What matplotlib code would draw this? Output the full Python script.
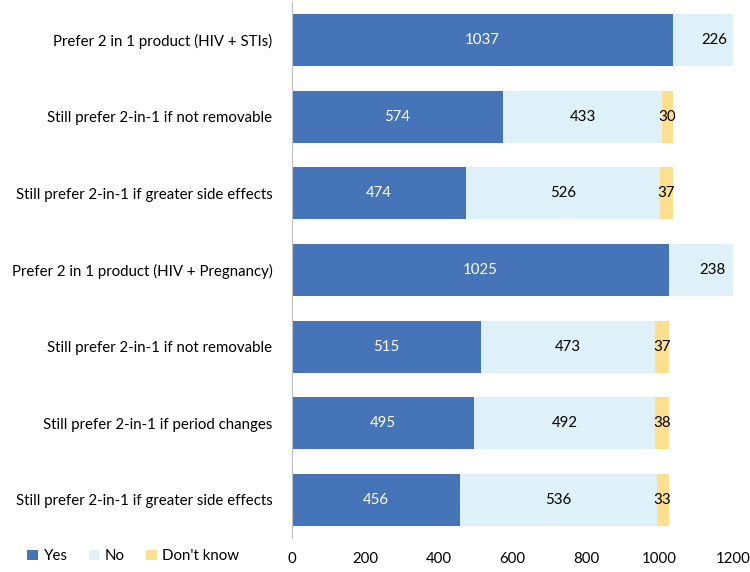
import matplotlib.pyplot as plt
import numpy as np

# categories top to bottom
labels = [
    "Prefer 2 in 1 product (HIV + STIs)",
    "Still prefer 2-in-1 if not removable",
    "Still prefer 2-in-1 if greater side effects",
    "Prefer 2 in 1 product (HIV + Pregnancy)",
    "Still prefer 2-in-1 if not removable",
    "Still prefer 2-in-1 if period changes",
    "Still prefer 2-in-1 if greater side effects",
]
yes = [1037, 574, 474, 1025, 515, 495, 456]
no = [226, 433, 526, 238, 473, 492, 536]
dont_know = [0, 30, 37, 0, 37, 38, 33]

series_names = ["Yes", "No", "Don't know"]
colors = ["#4674B8", "#DEF0F8", "#FEDF8E"]
text_colors = ["white", "black", "black"]

plt.rcParams['font.family'] = ['Lato', 'DejaVu Sans']
fs = 10.8

fig = plt.figure(figsize=(7.5, 5.72), dpi=100)
ax = fig.add_axes([292 / 750, 1 - 538 / 572, 441 / 750, 536 / 572])

y = np.arange(len(labels))
left = np.zeros(len(labels))
for vals, name, c, tc in zip([yes, no, dont_know], series_names, colors, text_colors):
    vals = np.array(vals, dtype=float)
    ax.barh(y, vals, left=left, height=0.68, color=c, label=name)
    for yi, (l, v) in enumerate(zip(left, vals)):
        if v > 0:
            ax.text(l + v / 2, yi, f"{int(v)}", ha='center', va='center',
                    color=tc, fontsize=fs)
    left += vals

ax.set_xlim(0, 1200)
ax.set_ylim(len(labels) - 0.5, -0.5)
ax.set_yticks(y)
ax.set_yticklabels(labels, fontsize=fs)
ax.set_xticks(np.arange(0, 1201, 200))
ax.tick_params(axis='x', length=0, labelsize=fs, pad=10)
ax.tick_params(axis='y', length=0, pad=14)

for s in ['top', 'right', 'bottom']:
    ax.spines[s].set_visible(False)
ax.spines['left'].set_color('#BFBFBF')

fig.legend(loc='lower left', bbox_to_anchor=(18 / 750, 0.0), ncol=3, frameon=False,
           fontsize=fs, handlelength=0.7, handleheight=0.7, handletextpad=0.4,
           columnspacing=1.4, borderaxespad=0.2)

fig.savefig("out.png", dpi=100)
